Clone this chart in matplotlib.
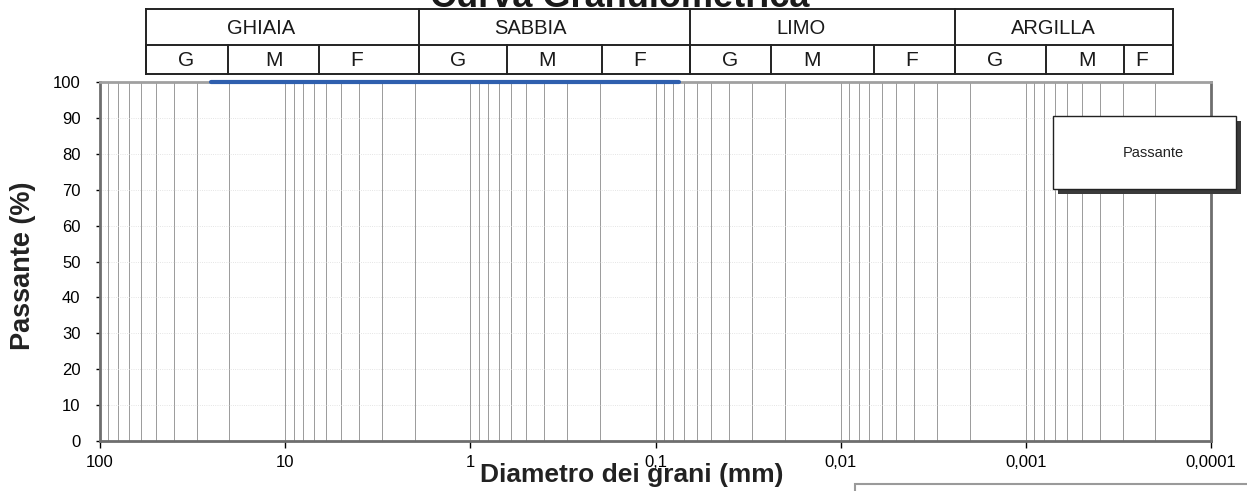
import matplotlib
matplotlib.use("Agg")
import matplotlib.pyplot as plt
from matplotlib.lines import Line2D
from matplotlib.patches import Rectangle
from matplotlib.ticker import FixedLocator, LogLocator, NullFormatter

plt.rcParams['font.family'] = ['Liberation Sans', 'DejaVu Sans']

# sieve data (mm) and percent passing
diametri = [25, 19, 12.5, 9.5, 4.75, 2, 0.85, 0.425, 0.25, 0.106, 0.075]
passante = [100, 100, 100, 100, 100, 100, 100, 100, 100, 100, 100]

x_ticks = [100, 10, 1, 0.1, 0.01, 0.001, 0.0001]
x_tick_labels = ['100', '10', '1', '0,1', '0,01', '0,001', '0,0001']
y_ticks = [0, 10, 20, 30, 40, 50, 60, 70, 80, 90, 100]

classi = ['GHIAIA', 'SABBIA', 'LIMO', 'ARGILLA']
sottoclassi = ['G', 'M', 'F']

W, H = 1247, 491


def fx(x):
    return x / W


def fy(y):
    return 1 - y / H


fig = plt.figure(figsize=(W / 100, H / 100), dpi=100)
ax = fig.add_axes([fx(100), fy(441), (1211 - 100) / W, (441 - 82) / H])

ax.set_xscale('log')
ax.set_xlim(100, 0.0001)
ax.set_ylim(0, 100)

ax.plot(diametri, passante, color='#2f5fae', lw=3, solid_capstyle='round',
        zorder=5, clip_on=False)

ax.xaxis.set_major_locator(FixedLocator(x_ticks))
ax.set_xticklabels(x_tick_labels)
ax.xaxis.set_minor_locator(LogLocator(base=10, subs=range(2, 10), numticks=20))
ax.xaxis.set_minor_formatter(NullFormatter())
ax.set_yticks(y_ticks)

ax.tick_params(axis='x', which='major', length=5, width=1, pad=5, labelsize=12)
ax.tick_params(axis='x', which='minor', length=0)
ax.tick_params(axis='y', length=3, width=1, pad=11, labelsize=12)

ax.grid(axis='x', which='both', color='#9a9a9a', lw=0.7)
ax.grid(axis='y', which='major', color='#dcdcdc', lw=0.6, ls=':')
ax.set_axisbelow(True)

for side in ['top', 'right', 'bottom', 'left']:
    ax.spines[side].set_color('#6e6e6e')
    ax.spines[side].set_linewidth(2)
ax.spines['top'].set_color('#a0a0a0')

# header table with soil classes
top, mid, bot = 9, 45, 74
main_edges = [146, 419, 690, 955, 1173]
sub_edges = [146, 228, 319, 419, 507, 602, 690, 771, 874, 955, 1046, 1124, 1173]
main_x = [261, 530, 801, 1053]
sub_x = [186, 274, 357, 458, 547, 640, 730, 812, 912, 995, 1087, 1142]

for y in [top, mid, bot]:
    fig.add_artist(Line2D([fx(146), fx(1173)], [fy(y), fy(y)], color='#222222', lw=1.4))
for x in main_edges:
    fig.add_artist(Line2D([fx(x), fx(x)], [fy(top), fy(bot)], color='#222222', lw=1.4))
for x in sub_edges:
    fig.add_artist(Line2D([fx(x), fx(x)], [fy(mid), fy(bot)], color='#222222', lw=1.4))

for name, x in zip(classi, main_x):
    fig.text(fx(x), fy(28), name, ha='center', va='center', fontsize=14.5, color='#1a1a1a')
for i, x in enumerate(sub_x):
    fig.text(fx(x), fy(61), sottoclassi[i % 3], ha='center', va='center', fontsize=15, color='#1a1a1a')

# title (cut by the page edge)
fig.text(fx(620), fy(7), 'Curva Granulometrica', ha='center', va='baseline',
         fontsize=26, fontweight='bold', color='#1a1a1a')

fig.text(fx(632), fy(482), 'Diametro dei grani (mm)', ha='center', va='baseline',
         fontsize=19, fontweight='bold', color='#222222')
fig.text(fx(23), fy(266), 'Passante (%)', ha='center', va='center', rotation=90,
         fontsize=19.5, fontweight='bold', color='#222222')

# legend box with shadow
fig.add_artist(Rectangle((fx(1058), fy(194)), (1236 - 1053) / W, (189 - 116) / H,
                         transform=fig.transFigure, facecolor='#3a3a3a', edgecolor='none'))
fig.add_artist(Rectangle((fx(1053), fy(189)), (1236 - 1053) / W, (189 - 116) / H,
                         transform=fig.transFigure, facecolor='white', edgecolor='#222222', lw=1))
fig.text(fx(1153), fy(153), 'Passante', ha='center', va='center', fontsize=10.5, color='#222222')

# partial box at the bottom edge
fig.add_artist(Rectangle((fx(855), fy(510)), 420 / W, 26 / H, transform=fig.transFigure,
                         facecolor='none', edgecolor='#9a9a9a', lw=1.5))

fig.savefig('out.png', dpi=100, facecolor='white')
